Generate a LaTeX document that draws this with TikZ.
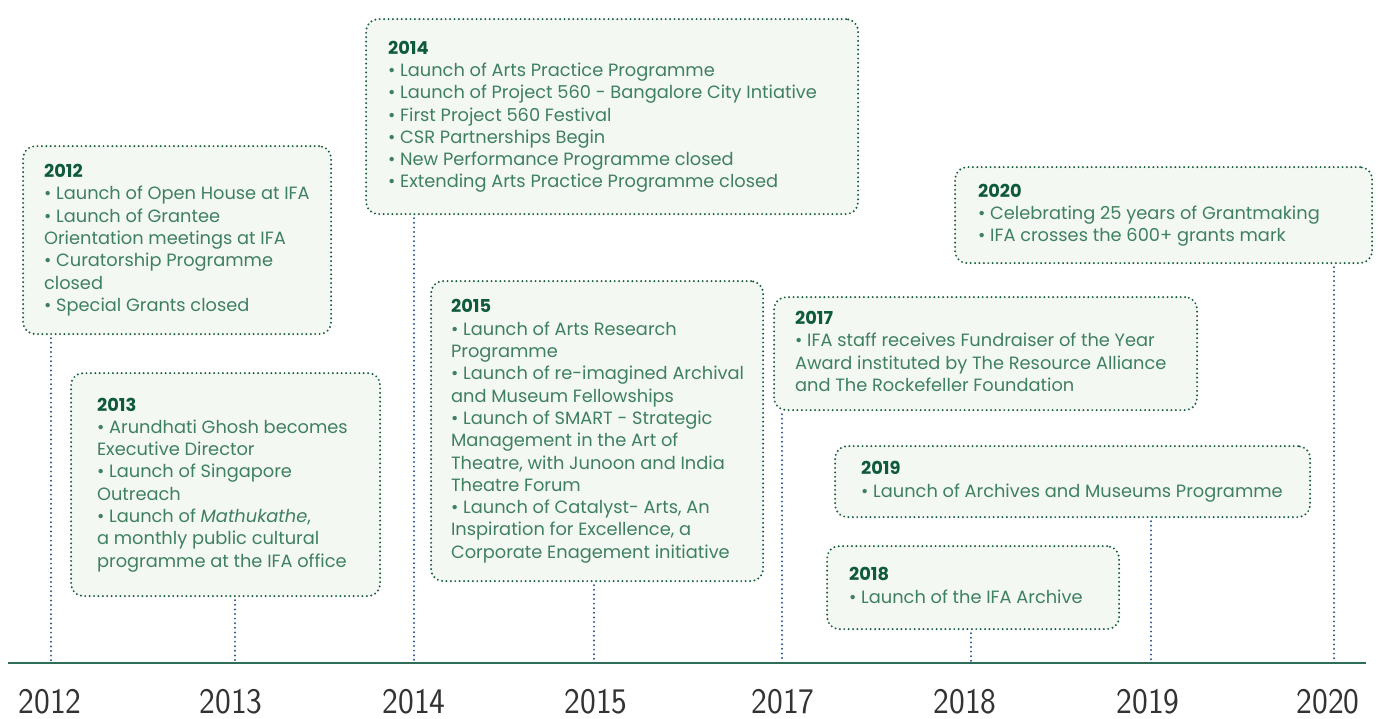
\documentclass[tikz,border=0pt]{standalone}
\usepackage{fontspec}
\setmainfont{Poppins}
\usepackage{graphicx}
\definecolor{boxfill}{HTML}{F3F8F2}
\definecolor{boxline}{HTML}{1B5E3E}
\definecolor{bodytext}{HTML}{3F8060}
\definecolor{headtext}{HTML}{0F5A3B}
\definecolor{connline}{HTML}{2B5B8C}
\definecolor{axisline}{HTML}{2E6E58}
\definecolor{yeartext}{HTML}{333333}
\newcommand{\hd}[1]{{\color{headtext}\bfseries #1}}
\newcommand{\lines}[2]{\makebox[#1][l]{\begin{tabular}{@{}l@{}}#2\end{tabular}}}
\tikzset{
  evbox/.style={draw=boxline, line width=2.2pt, line cap=round,
    dash pattern=on 0pt off 4.4pt, rounded corners=12pt, fill=boxfill,
    anchor=north west, inner ysep=0pt, text=bodytext,
    font=\fontsize{17.8}{22.3}\selectfont},
  conn/.style={draw=connline, line width=2.2pt, line cap=round,
    dash pattern=on 0pt off 4.6pt},
  axisln/.style={draw=axisline, line width=2pt},
  yearlbl/.style={anchor=south, inner sep=0pt, text=yeartext,
    font=\sffamily\fontsize{36}{40}\selectfont}
}
\newcommand{\yr}[1]{\scalebox{0.93}[1]{#1}}
\begin{document}
\begin{tikzpicture}[x=1pt,y=-1pt]
\useasboundingbox (0,0) rectangle (1381,718);

\node[evbox, inner xsep=21pt, minimum height=188pt] (b12) at (22,145)
 {\lines{266pt}{\hd{2012}\\• Launch of Open House at IFA\\• Launch of Grantee\\Orientation meetings at IFA\\• Curatorship Programme\\closed\\• Special Grants closed}};

\node[evbox, inner xsep=26pt, minimum height=223pt] (b13) at (70,372)
 {\lines{257pt}{\hd{2013}\\• Arundhati Ghosh becomes\\Executive Director\\• Launch of Singapore\\Outreach\\• Launch of \textit{Mathukathe},\\a monthly public cultural\\programme at the IFA office}};

\node[evbox, inner xsep=22pt, minimum height=195pt] (b14) at (365,18)
 {\lines{448pt}{\hd{2014}\\• Launch of Arts Practice Programme\\• Launch of Project 560 - Bangalore City Intiative\\• First Project 560 Festival\\• CSR Partnerships Begin\\• New Performance Programme closed\\• Extending Arts Practice Programme closed}};

\node[evbox, inner xsep=20pt, minimum height=300pt] (b15) at (430,280)
 {\lines{292pt}{\hd{2015}\\• Launch of Arts Research\\Programme\\• Launch of re-imagined Archival\\and Museum Fellowships\\• Launch of SMART - Strategic\\Management in the Art of\\Theatre, with Junoon and India\\Theatre Forum\\• Launch of Catalyst- Arts, An\\Inspiration for Excellence, a\\Corporate Enagement initiative}};

\node[evbox, inner xsep=21pt, minimum height=113pt] (b17) at (773,296)
 {\lines{381pt}{\hd{2017}\\• IFA staff receives Fundraiser of the Year\\Award instituted by The Resource Alliance\\and The Rockefeller Foundation}};

\node[evbox, inner xsep=26pt, minimum height=71pt] (b19) at (834,445)
 {\lines{423pt}{\hd{2019}\\• Launch of Archives and Museums Programme}};

\node[evbox, inner xsep=22pt, minimum height=83pt] (b18) at (826,545)
 {\lines{248pt}{\hd{2018}\\• Launch of the IFA Archive}};

\node[evbox, inner xsep=23pt, minimum height=96pt] (b20) at (954,166)
 {\lines{371pt}{\hd{2020}\\• Celebrating 25 years of Grantmaking\\• IFA crosses the 600+ grants mark}};

% axis
\coordinate (axL) at (8,663);
\coordinate (axR) at (1366,663);
\draw[axisln] (axL) -- (axR);

\coordinate (t12) at (51,661);
\coordinate (t13) at (235,661);
\coordinate (t14) at (414,661);
\coordinate (t15) at (594,661);
\coordinate (t17) at (782,661);
\coordinate (t18) at (971,661);
\coordinate (t19) at (1151,661);
\coordinate (t20) at (1334,661);

\draw[conn] (b12.south -| t12) ++(0,3) -- (t12);
\draw[conn] (b13.south -| t13) ++(0,3) -- (t13);
\draw[conn] (b14.south -| t14) ++(0,3) -- (t14);
\draw[conn] (b15.south -| t15) ++(0,3) -- (t15);
\draw[conn] (b17.south -| t17) ++(0,3) -- (t17);
\draw[conn] (b18.south -| t18) ++(0,3) -- (t18);
\draw[conn] (b19.south -| t19) ++(0,3) -- (t19);
\draw[conn] (b20.south -| t20) ++(0,3) -- (t20);

\node[yearlbl] (y12) at (50,714) {\yr{2012}};
\node[yearlbl] (y13) at (231,714) {\yr{2013}};
\node[yearlbl] (y14) at (414,714) {\yr{2014}};
\node[yearlbl] (y15) at (596,714) {\yr{2015}};
\node[yearlbl] (y17) at (783,714) {\yr{2017}};
\node[yearlbl] (y18) at (965,714) {\yr{2018}};
\node[yearlbl] (y19) at (1148,714) {\yr{2019}};
\node[yearlbl] (y20) at (1328,714) {\yr{2020}};
\end{tikzpicture}
\end{document}
